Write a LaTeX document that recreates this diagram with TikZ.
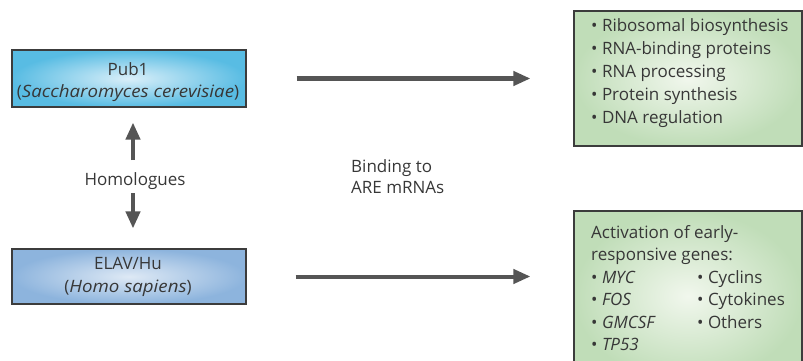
\documentclass[tikz,border=0pt]{standalone}
\usepackage{fontspec}
\setmainfont{Open Sans}
\usetikzlibrary{arrows.meta}
\definecolor{txtgray}{RGB}{55,55,55}
\definecolor{arrgray}{RGB}{85,85,85}
\definecolor{edgegray}{RGB}{60,60,60}
\definecolor{blueout}{RGB}{88,188,227}
\definecolor{bluein}{RGB}{218,239,249}
\definecolor{elavout}{RGB}{141,180,221}
\definecolor{elavin}{RGB}{222,233,245}
\definecolor{greenout}{RGB}{192,221,184}
\definecolor{greenin}{RGB}{241,247,237}
\tikzset{
  box/.style={draw=edgegray, line width=1.1pt, rectangle, inner sep=0pt},
  txt/.style={text=txtgray, inner sep=0pt, font=\fontsize{17}{22.5}\selectfont},
  arr/.style={draw=arrgray, line width=4pt, -{Triangle[length=17pt,width=14pt]}},
}
\begin{document}
\begin{tikzpicture}[x=1pt,y=-1pt]
\useasboundingbox (0,0) rectangle (803,361);
% boxes
\node[box, minimum width=234pt, minimum height=57pt, outer color=blueout, inner color=bluein] (pub1) at (129,78.5) {};
\node[box, minimum width=234pt, minimum height=55pt, outer color=elavout, inner color=elavin] (elav) at (129,276.5) {};
\node[box, minimum width=228pt, minimum height=135pt, outer color=greenout, inner color=greenin] (g1) at (688,78.5) {};
\node[box, minimum width=228pt, minimum height=170pt, outer color=greenout, inner color=greenin] (g2) at (688,296) {};
% texts
\node[txt, anchor=base] (pubtxt) at (128,75) {\begin{tabular}[t]{@{}c@{}}Pub1\\[-0.5pt](\textit{\addfontfeature{FakeStretch=1.1}Saccharomyces cerevisiae})\end{tabular}};
\node[txt, anchor=base] (elavtxt) at (128,269) {\begin{tabular}[t]{@{}c@{}}ELAV/Hu\\[0.5pt](\textit{\addfontfeature{FakeStretch=1.1}Homo sapiens})\end{tabular}};
\node[txt, anchor=base] (homol) at (135,185) {Homologues};
\node[txt, anchor=base west] (bind) at (351,172) {\begin{tabular}[t]{@{}l@{}}Binding to\\[-1pt]ARE mRNAs\end{tabular}};
\node[txt, anchor=base west] (list1) at (591,32) {\begin{tabular}[t]{@{}l@{}}
• Ribosomal biosynthesis\\[0.5pt]
• RNA-binding proteins\\[0.5pt]
• RNA processing\\[0.5pt]
• Protein synthesis\\[0.5pt]
• DNA regulation\end{tabular}};
\node[txt, anchor=base west] (list2) at (591,238) {\begin{tabular}[t]{@{}p{106pt}@{}l@{}}
\multicolumn{2}{@{}l@{}}{Activation of early-}\\
\multicolumn{2}{@{}l@{}}{responsive genes:}\\
• \textit{MYC} & • Cyclins\\
• \textit{FOS} & • Cytokines\\
• \textit{GMCSF} & • Others\\
• \textit{TP53} & \end{tabular}};
% arrow coordinates
\coordinate (upstart) at (133,160);
\coordinate (downstart) at (133,193);
\draw[arr, shorten >=15pt] (upstart) -- (pub1.south -| upstart);
\draw[arr, shorten >=20pt] (downstart) -- (elav.north -| downstart);
\draw[arr, shorten <=50pt, shorten >=43pt] (pub1.east) -- (g1.west);
\draw[arr, shorten <=49pt, shorten >=43pt] (elav.east) -- (g2.west |- elav.east);
\end{tikzpicture}
\end{document}
